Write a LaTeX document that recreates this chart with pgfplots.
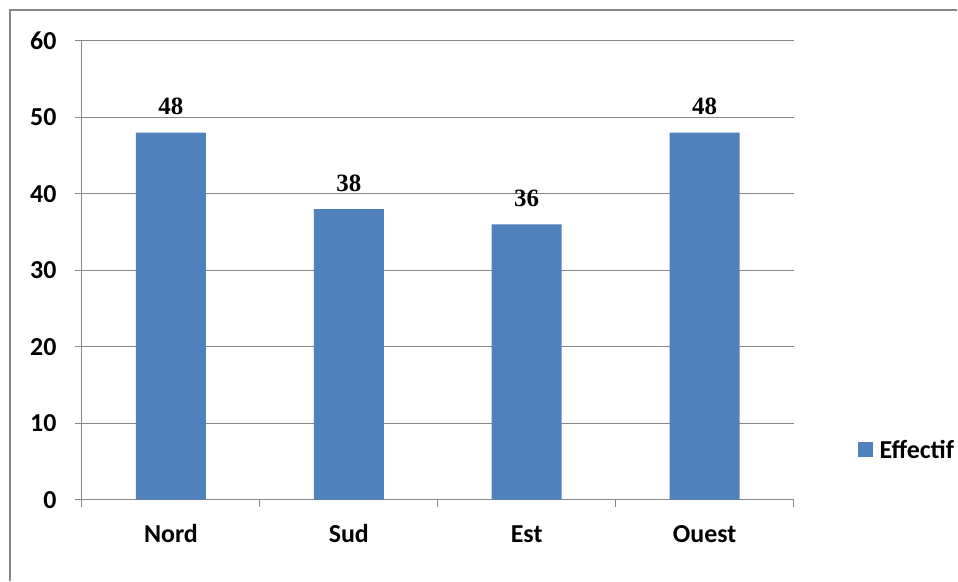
\documentclass[border=0pt]{standalone}
\usepackage{pgfplots}
\pgfplotsset{compat=1.18}
\usepackage{fontspec}
\setmainfont{Carlito}
\newfontfamily\timesfont{Liberation Serif}
\definecolor{barblue}{HTML}{4F81BD}
\definecolor{gridgray}{HTML}{868686}

\begin{document}
\begin{tikzpicture}[x=1bp,y=1bp]
  % page size and outer frame
  \path (0,0) rectangle (958,581);
  \draw[gridgray, line width=1.2bp] (10,0) -- (10,571) -- (958,571);
  \begin{axis}[
      at={(82bp,81bp)}, anchor=south west,
      scale only axis, width=712bp, height=459bp,
      ybar, bar width=70bp,
      xmin=-0.5, xmax=3.5, ymin=0, ymax=60,
      axis x line=bottom, axis y line=left,
      axis line style={gridgray, line width=1bp, -},
      xtick={0,1,2,3},
      xticklabels={Nord,Sud,Est,Ouest},
      minor xtick={-0.5,0.5,1.5,2.5,3.5},
      ytick={0,10,...,60},
      major x tick style={draw=none},
      minor x tick style={gridgray, line width=1bp},
      major y tick style={gridgray, line width=1bp},
      tick align=outside,
      major tick length=7bp, minor tick length=7bp,
      ymajorgrids,
      grid style={gridgray, line width=1bp},
      ticklabel style={font=\bfseries\fontsize{26}{26}\selectfont, text=black},
      /pgf/number format/assume math mode=true,
      xticklabel style={anchor=base, text depth=0pt, yshift=-36bp},
      yticklabel style={xshift=-15bp},
      nodes near coords,
      every node near coord/.append style={font=\timesfont\bfseries\fontsize{25}{25}\selectfont,
        text=black, anchor=base, inner sep=0pt, yshift=18bp},
      legend style={at={(1.09,0.109)}, anchor=west, draw=none, fill=none,
        font=\bfseries\fontsize{26}{26}\selectfont, inner sep=0pt,
        cells={anchor=west}},
      legend image code/.code={\fill[barblue] (0bp,-7.5bp) rectangle (15bp,7.5bp);
        \path (20bp,0bp);},
      clip=false,
    ]
    \addplot[fill=barblue, draw=none] coordinates {(0,48) (1,38) (2,36) (3,48)};
    \addlegendentry{Effectif}
  \end{axis}
\end{tikzpicture}
\end{document}
